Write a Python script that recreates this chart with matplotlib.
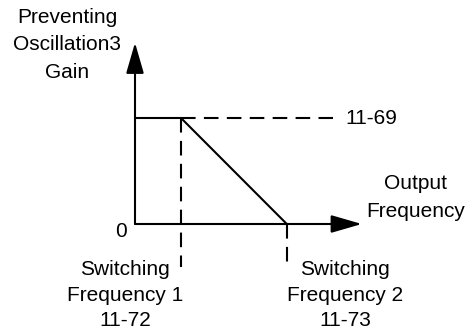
import matplotlib
matplotlib.use('Agg')
from matplotlib import pyplot as plt

# chart values (x in frequency units, y in gain units)
switch_freqs = [1.0, 3.3]          # 11-72, 11-73
gain_level = 1.0                   # 11-69
gain_curve_x = [0.0, 1.0, 3.3]
gain_curve_y = [1.0, 1.0, 0.0]
axis_top = 1.71
axis_right = 4.93

y_title = ['Preventing', 'Oscillation3', 'Gain']
x_title = ['Output', 'Frequency']
sw1_label = ['Switching', 'Frequency 1', '11-72']
sw2_label = ['Switching', 'Frequency 2', '11-73']
gain_label = '11-69'

plt.rcParams['font.family'] = ['Liberation Sans', 'DejaVu Sans']

fig = plt.figure(figsize=(4.68, 3.27), dpi=100)
ax = fig.add_axes([0, 0, 1, 1])
ax.set_xlim(-135 / 46, (468 - 135) / 46)
ax.set_ylim((224 - 327) / 106, 224 / 106)
ax.axis('off')

fs = 15
arrow = dict(arrowstyle='-|>,head_length=1.9,head_width=0.55', mutation_scale=10,
             lw=1.5, color='black', shrinkA=0, shrinkB=0)
ax.annotate('', xy=(0, axis_top), xytext=(0, 0), arrowprops=arrow)
ax.annotate('', xy=(axis_right, 0), xytext=(0, 0), arrowprops=arrow)

# gain curve
ax.plot(gain_curve_x, gain_curve_y, color='black', lw=1.5, solid_capstyle='butt')

# dashed guides
dash = dict(color='black', lw=1.5, dashes=(7, 4))
ax.plot([switch_freqs[0], 4.3], [gain_level, gain_level], **dash)
ax.plot([switch_freqs[0], switch_freqs[0]], [gain_level, -0.41], **dash)
ax.plot([switch_freqs[1], switch_freqs[1]], [0, -0.36], **dash)

ax.text(4.57, gain_level, gain_label, fontsize=fs, va='center', ha='left')
ax.text(-0.3, -0.07, '0', fontsize=fs, va='center', ha='center')

for i, s in enumerate(y_title):
    ax.text(-1.48, 1.95 - i * 0.26, s, fontsize=fs, va='center', ha='center')
for i, s in enumerate(x_title):
    ax.text(6.1, 0.38 - i * 0.26, s, fontsize=fs, va='center', ha='center')
for i, s in enumerate(sw1_label):
    ax.text(-0.22, -0.43 - i * 0.24, s, fontsize=fs, va='center', ha='center')
for i, s in enumerate(sw2_label):
    ax.text(4.57, -0.43 - i * 0.24, s, fontsize=fs, va='center', ha='center')

fig.savefig('out.png', dpi=100)
